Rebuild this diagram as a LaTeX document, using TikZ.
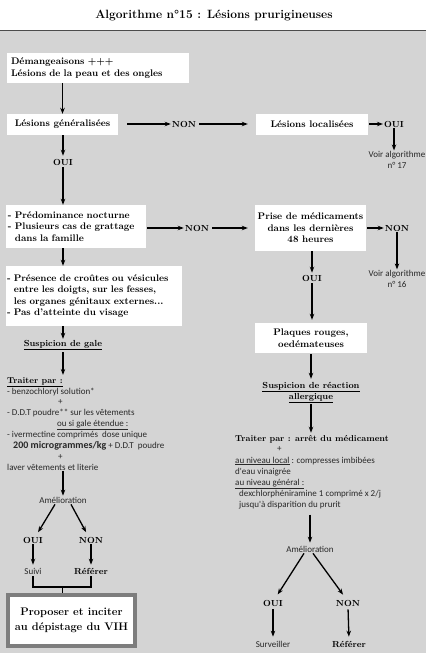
\documentclass[tikz,border=0pt]{standalone}
\usepackage{fontspec}
\newfontfamily\lt{Carlito}
\usetikzlibrary{arrows.meta}
\definecolor{bg}{RGB}{212,212,212}
\definecolor{frame}{RGB}{125,125,125}
\definecolor{thinink}{RGB}{40,40,40}
\begin{document}
\begin{tikzpicture}[x=1pt,y=-1pt,
 box/.style={fill=white, inner sep=0pt, font=\bfseries\fontsize{9.6}{11.5}\selectfont},
 lbl/.style={inner sep=1pt, font=\bfseries\fontsize{8.8}{11}\selectfont},
 thinlbl/.style={inner sep=1pt, text=thinink, font=\lt\fontsize{9}{10.5}\selectfont},
 tl/.style={inner sep=0pt, anchor=base west, text=thinink, font=\lt\fontsize{9}{11}\selectfont},
 bl/.style={inner sep=0pt, anchor=base west, font=\bfseries\fontsize{8.6}{11}\selectfont},
 arr/.style={-{Stealth[length=6pt,width=4.5pt]}, line width=1.3pt},
 ln/.style={line width=1.4pt}]
\useasboundingbox (0,0) rectangle (426,653);
\fill[white] (0,0) rectangle (426,30);
\fill[bg] (0,30) rectangle (426,653);
\draw[line width=1pt, black!70] (0,30.5) -- (426,30.5);
\node[font=\bfseries\fontsize{12}{14}\selectfont] (title) at (214,15) {Algorithme n°15 : Lésions prurigineuses};

% boxes
\node[box, minimum width=182, minimum height=30, text width=174, align=left] (b1) at (98,68) {Démangeaisons +++\\Lésions de la peau et des ongles};
\node[box, minimum width=111, minimum height=21, align=center] (b2) at (62.5,124.5) {Lésions généralisées};
\node[box, minimum width=112, minimum height=21, align=center] (b3) at (312,124.5) {Lésions localisées};
\node[box, minimum width=140, minimum height=43, text width=136, align=left] (b4) at (76,226.5) {- Prédominance nocturne\\- Plusieurs cas de grattage\\\phantom{- }dans la famille};
\node[box, minimum width=111, minimum height=46, align=center] (b5) at (310.5,228) {Prise de médicaments\\dans les dernières\\48 heures};
\node[box, minimum width=176, minimum height=60, text width=174, align=left] (b6) at (94,296) {- Présence de croûtes ou vésicules\\\phantom{- }entre les doigts, sur les fesses,\\\phantom{- }les organes génitaux externes...\\- Pas d'atteinte du visage};
\node[box, minimum width=112, minimum height=30, align=center] (b7) at (311,338) {Plaques rouges,\\oedémateuses};
\node[box, draw=frame, line width=4pt, minimum width=127, minimum height=51, align=center, font=\bfseries\fontsize{11}{15}\selectfont] (b8) at (71.5,620.5) {Proposer et inciter\\au dépistage du VIH};

% labels
\node[lbl] (non1) at (184,124) {NON};
\node[lbl] (oui2) at (394,124) {OUI};
\node[thinlbl, align=center] (voir17) at (397,160) {Voir algorithme\\n° 17};
\node[lbl] (oui1) at (63,162) {OUI};
\node[lbl] (non2) at (197,228) {NON};
\node[lbl] (non3) at (397,228) {NON};
\node[thinlbl, align=center] (voir16) at (397,279) {Voir algorithme\\n° 16};
\node[lbl] (oui3) at (312,278) {OUI};
\node[lbl, align=center] (suspg) at (63,345) {\underline{Suspicion de gale}};
\node[lbl, align=center] (suspr) at (311,392.5) {\underline{Suspicion de réaction}\\\underline{allergique}};

% left treatment
\node[bl] (tp1) at (7,383) {\underline{Traiter par :}};
\node[tl] (l1) at (7,394) {- benzochloryl solution*};
\node[tl] (lp1) at (58,404) {+};
\node[tl] (l2) at (7,415) {- D.D.T poudre** sur les vêtements};
\node[tl] (l3) at (57,426) {\underline{ou si gale étendue :}};
\node[tl] (l4) at (7,437) {- ivermectine comprimés\ \ dose unique};
\node[tl] (l5) at (13,448) {{\bfseries\fontsize{10}{11}\selectfont 200 microgrammes/kg} + D.D.T\ \ poudre};
\node[tl] (lp2) at (58,459) {+};
\node[tl] (l6) at (7,470) {laver vêtements et literie};
\node[thinlbl] (am1) at (63,500) {Amélioration};
\node[lbl] (ouiL) at (33,540) {OUI};
\node[lbl] (nonL) at (91,540) {NON};
\node[thinlbl] (suivi) at (33,571) {Suivi};
\node[lbl] (refL) at (91,571) {Référer};
\coordinate (stem) at (62.5,587);

% right treatment
\node[bl] (r0) at (235,441) {Traiter par : arrêt du médicament};
\node[tl] (rp) at (277,451) {+};
\node[tl] (r1) at (235,463) {\underline{au niveau local} : compresses imbibées};
\node[tl] (r2) at (235,474) {d'eau vinaigrée};
\node[tl] (r3) at (235,485) {\underline{au niveau général :}};
\node[tl] (r4) at (239,496) {dexchlorphéniramine 1 comprimé x 2/j};
\node[tl] (r5) at (239,507) {jusqu'à disparition du prurit};
\node[thinlbl] (am2) at (310,549) {Amélioration};
\node[lbl] (ouiR) at (273,603) {OUI};
\node[lbl] (nonR) at (348,603) {NON};
\node[thinlbl] (surv) at (273,644) {Surveiller};
\node[lbl] (refR) at (349,644) {Référer};

% connectors
\draw[arr] (b1.south -| b2.north) -- (b2.north);
\draw[arr, shorten <=9pt] (b2.east |- non1) -- (non1.west);
\draw[arr, shorten <=2pt, shorten >=8pt] (non1.east) -- (b3.west |- non1);
\draw[arr, shorten <=1pt] (b3.east |- oui2) -- (oui2.west);
\draw[arr] (oui2.south) -- (oui2.south |- voir17.north);
\draw[arr, shorten >=2pt] (b2.south -| oui1) -- (oui1.north);
\draw[arr, shorten <=1pt] (oui1.south) -- (oui1.south |- b4.north);
\draw[arr, shorten <=1pt] (b4.east |- non2) -- (non2.west);
\draw[arr, shorten <=2pt, shorten >=7pt] (non2.east) -- (b5.west |- non2);
\draw[arr, shorten <=1pt] (b5.east |- non3) -- (non3.west);
\draw[arr] (non3.south) -- (non3.south |- voir16.north);
\draw[arr, shorten >=1pt] (b5.south -| oui3) -- (oui3.north);
\draw[arr, shorten <=1pt, shorten >=3pt] (oui3.south) -- (oui3.south |- b7.north);
\draw[arr] (oui1 |- b4.south) -- (oui1 |- b6.north);
\draw[arr] (suspg |- b6.south) -- (suspg.north);
\draw[arr, shorten <=1pt, shorten >=2pt] (suspg.south) -- (suspg.south |- tp1.north);
\draw[arr, shorten <=1pt] (am1.north |- l6.south) -- (am1.north);
\draw[arr, shorten >=4pt] ([xshift=-8pt]am1.south) -- ([xshift=3pt]ouiL.north);
\draw[arr, shorten >=4pt] ([xshift=8pt]am1.south) -- ([xshift=-3pt]nonL.north);
\draw[arr, shorten >=2pt] (ouiL.south) -- (suivi.north);
\draw[arr, shorten >=2pt] (nonL.south) -- (refL.north);
\draw[ln] ([yshift=-1pt]suivi.south) |- (stem) -| ([yshift=-1pt]refL.south);
\draw[ln] (stem) -- (stem |- b8.north);
\draw[arr, shorten <=1pt, shorten >=2pt] (b7.south -| suspr) -- (suspr.north);
\draw[arr, shorten >=2pt] (suspr.south) -- (suspr.south |- r0.north);
\draw[arr, shorten <=6pt, shorten >=2pt] (am2.north |- r5.south) -- (am2.north);
\draw[arr, shorten >=5pt] ([xshift=-6pt]am2.south) -- ([xshift=2pt]ouiR.north);
\draw[arr, shorten >=5pt] ([xshift=3pt]am2.south) -- ([xshift=-2pt]nonR.north);
\draw[arr, shorten <=2pt, shorten >=3pt] (ouiR.south) -- (surv.north);
\draw[arr, shorten <=2pt, shorten >=3pt] (nonR.south) -- (refR.north);
\end{tikzpicture}
\end{document}
